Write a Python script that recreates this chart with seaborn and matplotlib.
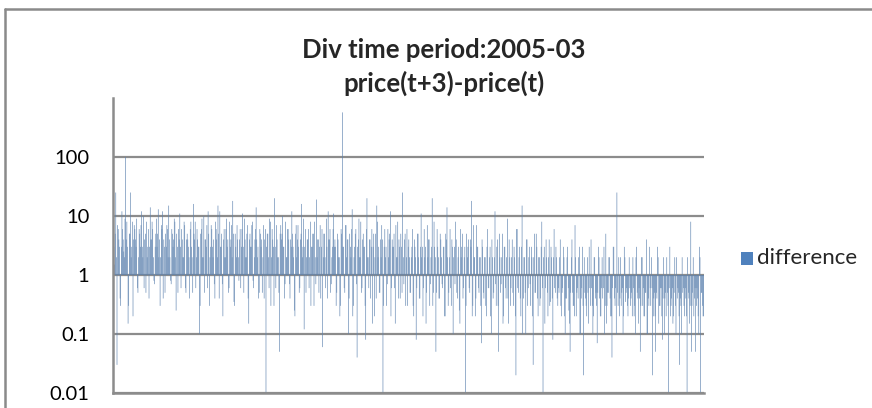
import numpy as np
import pandas as pd
import matplotlib
matplotlib.use("Agg")
import matplotlib.pyplot as plt
import seaborn as sns
from matplotlib.patches import Rectangle
from matplotlib.lines import Line2D

title_line1 = "Div time period:2005-03"
title_line2 = "price(t+3)-price(t)"
series_name = "difference"
ytick_vals = [0.01, 0.1, 1, 10, 100]
ytick_labels = ["0.01", "0.1", "1", "10", "100"]

# values read left to right, in 8 stretches; each stretch has two interleaved lists
seg1a = [0.02, 1.5, 25, 0.03, 6, 3, 0.3, 12, 4, 2, 100, 8, 0.15, 5, 25, 3, 0.2, 7, 4, 9,
         0.5, 6, 3, 12, 2, 0.6, 5, 8, 3, 0.4, 14, 4, 6, 0.8, 3, 9, 5, 2, 0.3, 7,
         12, 4, 0.5, 3, 6, 15, 2, 0.7, 5, 4, 8, 0.25, 3, 6, 11, 0.6, 4, 2, 7, 0.5]
seg1b = [3, 5, 2, 7, 4, 0.4, 3, 6, 2.5, 9, 4, 3, 0.3, 5, 2, 8, 4, 6, 3, 0.6,
         2, 5, 7, 3, 10, 4, 0.5, 2, 6, 3, 4, 8, 2, 0.7, 5, 3, 13, 4, 2, 6,
         0.4, 3, 5, 7, 2, 4, 0.8, 6, 3, 9, 2, 5, 0.5, 4, 3, 6, 2, 8, 0.6, 4]
seg2a = [5, 3, 0.4, 8, 2, 16, 4, 0.6, 6, 3, 0.1, 5, 9, 2, 0.5, 4, 7, 12, 0.3, 3,
         6, 2, 0.7, 8, 4, 15, 0.4, 3, 5, 0.2, 6, 2, 9, 4, 0.6, 3, 7, 18, 0.35, 5,
         2, 4, 0.8, 6, 3, 11, 0.5, 4, 2, 7, 0.15, 5, 3, 8, 0.6, 4, 14, 2, 0.4, 6]
seg2b = [4, 2, 6, 3, 0.5, 5, 8, 2, 4, 3, 0.3, 6, 2, 10, 4, 3, 0.6, 5, 2, 7,
         3, 4, 0.4, 6, 2, 5, 12, 3, 0.7, 4, 2, 6, 3, 0.5, 8, 4, 2, 5, 0.3, 3,
         7, 2, 4, 0.6, 6, 3, 9, 2, 5, 0.4, 4, 3, 7, 0.8, 2, 6, 4, 3, 0.5, 5]
seg3a = [3, 0.5, 7, 4, 0.01, 5, 2, 9, 0.3, 6, 3, 20, 0.6, 4, 2, 0.05, 7, 5, 3, 0.4,
         8, 2, 6, 0.7, 4, 12, 3, 0.25, 5, 2, 7, 0.5, 4, 16, 3, 0.12, 6, 2, 4, 0.6,
         8, 3, 5, 0.3, 2, 19, 4, 0.5, 7, 3, 0.06, 5, 2, 9, 0.4, 4, 6, 0.7, 3, 11]
seg3b = [4, 2, 0.4, 6, 3, 5, 0.6, 8, 2, 4, 0.3, 3, 7, 2, 0.5, 5, 4, 10, 3, 0.7,
         2, 6, 4, 0.4, 3, 5, 2, 0.2, 7, 4, 3, 0.6, 5, 2, 9, 3, 0.5, 4, 6, 2,
         0.3, 3, 5, 8, 0.7, 2, 4, 3, 0.4, 6, 2, 5, 0.6, 3, 12, 4, 0.5, 2, 6, 3]
seg4a = [4, 0.3, 5, 2, 0.2, 6, 570, 3, 0.5, 7, 4, 0.1, 5, 2, 13, 0.3, 3, 6, 0.04, 4,
         2, 8, 0.6, 5, 3, 0.08, 20, 2, 4, 0.4, 6, 3, 0.2, 5, 15, 2, 0.5, 4, 7, 0.01,
         3, 2, 0.3, 6, 4, 12, 0.6, 3, 5, 0.15, 2, 8, 4, 0.4, 3, 25, 0.7, 5, 2, 0.3]
seg4b = [3, 0.5, 4, 2, 0.3, 5, 3, 0.6, 7, 2, 4, 0.4, 3, 6, 0.2, 2, 5, 0.7, 3, 9,
         2, 0.5, 4, 3, 0.3, 6, 2, 0.6, 4, 3, 0.15, 5, 2, 0.4, 8, 3, 0.5, 2, 4, 0.3,
         6, 3, 0.7, 2, 5, 0.2, 4, 3, 0.6, 7, 2, 0.4, 3, 5, 0.5, 2, 4, 0.3, 6, 3]
seg5a = [4, 0.5, 2, 6, 0.2, 3, 0.08, 5, 2, 0.4, 11, 3, 0.6, 2, 0.15, 7, 4, 0.3, 2, 20,
         0.5, 3, 0.05, 6, 2, 0.4, 4, 0.7, 3, 0.2, 5, 14, 0.3, 2, 0.6, 4, 0.1, 3, 8, 0.5,
         2, 0.25, 6, 3, 0.4, 2, 0.01, 5, 3, 0.6, 4, 18, 0.3, 2, 0.2, 7, 3, 0.5, 2, 0.07]
seg5b = [2, 0.5, 3, 0.3, 4, 2, 0.6, 5, 0.4, 3, 2, 0.2, 6, 3, 0.5, 2, 4, 0.7, 3, 0.3,
         8, 2, 0.5, 3, 0.4, 5, 2, 0.6, 3, 0.2, 4, 2, 0.5, 6, 0.3, 3, 2, 0.7, 4, 0.4,
         3, 0.15, 2, 5, 0.6, 3, 0.3, 2, 4, 0.5, 3, 0.2, 7, 2, 0.4, 3, 0.6, 2, 0.3, 4]
seg6a = [3, 0.4, 2, 0.2, 6, 0.6, 3, 0.1, 2, 0.5, 12, 0.3, 4, 0.05, 2, 0.7, 5, 0.2, 3, 0.4,
         9, 0.15, 2, 0.6, 4, 0.3, 2, 0.02, 6, 0.5, 3, 0.2, 15, 0.4, 2, 0.1, 4, 0.6, 3, 0.3,
         2, 0.03, 5, 0.5, 3, 0.2, 2, 0.4, 8, 0.01, 3, 0.6, 2, 0.2, 4, 0.35, 2, 0.08, 6, 0.5]
seg6b = [0.5, 2, 0.3, 3, 0.6, 2, 0.2, 4, 0.4, 2, 0.7, 3, 0.3, 5, 0.5, 2, 0.15, 3, 0.6, 2,
         0.4, 4, 0.3, 2, 0.5, 3, 0.2, 6, 0.6, 2, 0.4, 3, 0.1, 2, 0.5, 4, 0.3, 2, 0.7, 3,
         0.2, 2, 0.5, 5, 0.4, 2, 0.3, 3, 0.6, 2, 0.15, 4, 0.5, 2, 0.3, 3, 0.4, 2, 0.6, 3]
seg7a = [2, 0.3, 0.5, 4, 0.2, 0.6, 2, 0.1, 0.4, 3, 0.25, 0.05, 2, 0.5, 0.3, 7, 0.2, 0.6, 2, 0.1,
         0.4, 3, 0.02, 0.5, 0.3, 2, 0.15, 0.6, 4, 0.3, 0.2, 2, 0.5, 0.07, 3, 0.4, 0.2, 2, 0.6, 0.1,
         5, 0.3, 0.5, 2, 0.2, 0.04, 3, 0.4, 0.6, 25, 0.3, 0.2, 2, 0.5, 0.1, 3, 0.35, 0.6, 0.2, 2]
seg7b = [0.4, 0.6, 2, 0.3, 0.5, 3, 0.2, 0.4, 2, 0.6, 0.15, 0.5, 4, 0.3, 0.2, 2, 0.5, 0.4, 3, 0.1,
         0.6, 0.3, 2, 0.4, 0.2, 0.5, 3, 0.3, 0.6, 0.1, 2, 0.4, 0.3, 0.5, 2, 0.2, 0.6, 0.4, 3, 0.3,
         0.15, 0.5, 2, 0.4, 0.2, 0.6, 3, 0.3, 0.1, 0.5, 2, 0.4, 0.3, 0.6, 0.2, 2, 0.5, 0.3, 0.4, 0.6]
seg8a = [0.3, 0.5, 2, 0.2, 0.1, 3, 0.4, 0.6, 0.05, 2, 0.3, 0.2, 0.5, 4, 0.1, 0.3, 0.6, 2, 0.02, 0.4,
         0.2, 0.5, 3, 0.15, 0.3, 0.6, 0.08, 2, 0.4, 0.2, 0.5, 0.01, 3, 0.3, 0.6, 0.2, 2, 0.1, 0.4, 0.5,
         0.03, 0.3, 2, 0.6, 0.2, 0.4, 0.01, 0.5, 0.15, 8, 0.3, 2, 0.4, 0.05, 0.6, 0.2, 3, 0.01, 0.5, 0.2]
seg8b = [0.4, 0.2, 0.6, 0.3, 2, 0.5, 0.15, 0.4, 0.3, 2, 0.6, 0.2, 0.5, 0.1, 0.4, 3, 0.3, 0.6, 0.2, 0.5,
         0.05, 0.4, 2, 0.3, 0.6, 0.2, 0.4, 0.1, 0.5, 2, 0.3, 0.6, 0.2, 0.4, 0.15, 0.5, 0.3, 2, 0.6, 0.2,
         0.4, 0.1, 0.5, 0.3, 0.6, 0.2, 2, 0.4, 0.3, 0.05, 0.5, 0.2, 0.6, 0.3, 0.4, 0.1, 2, 0.5, 0.3, 0.2]

pairs = [(seg1a, seg1b), (seg2a, seg2b), (seg3a, seg3b), (seg4a, seg4b),
         (seg5a, seg5b), (seg6a, seg6b), (seg7a, seg7b), (seg8a, seg8b)]
values = [v for a, b in pairs for pa, pb in zip(a, b) for v in (pa, pb)]
n = len(values)

# Excel-style log bars grow from 1: offset from 1 drawn with bottom=1
df = pd.DataFrame({"idx": np.arange(n), "offset": np.array(values, dtype=float) - 1.0})

sns.set_style("white")
plt.rcParams["font.family"] = ["Lato", "DejaVu Sans"]

W, H = 872, 408
fig = plt.figure(figsize=(W / 100, H / 100), dpi=100)
ax = fig.add_axes([113 / W, 1 - 393 / H, (704 - 113) / W, (393 - 98) / H])

blue = "#4F81BD"
sns.barplot(data=df, x="idx", y="offset", ax=ax, color=blue, errorbar=None,
            width=1.0, linewidth=0, bottom=1)

ax.set_yscale("log")
ax.set_ylim(0.01, 1000)
ax.set_xlim(-0.5, n - 0.5)
ax.set_yticks(ytick_vals)
ax.set_yticklabels(ytick_labels)
ax.yaxis.set_minor_locator(matplotlib.ticker.NullLocator())
ax.set_xticks([])
ax.set_xlabel("")
ax.set_ylabel("")
ax.grid(axis="y", color="#8c8c8c", linewidth=1.6)
for gl in ax.get_ygridlines():
    gl.set_zorder(0.5)
for b in ax.patches:
    b.set_zorder(1)
    b.set_snap(False)
    b.set_antialiased(True)
ax.tick_params(axis="y", direction="inout", length=10, width=1.6, color="#8c8c8c",
               labelsize=14.5, pad=12, labelcolor="black")
for s in ["top", "right"]:
    ax.spines[s].set_visible(False)
for s in ["left", "bottom"]:
    ax.spines[s].set_color("#8c8c8c")
    ax.spines[s].set_linewidth(1.8)
    ax.spines[s].set_zorder(3)

fig.text(444 / W, 1 - 58 / H, title_line1, ha="center", va="baseline", fontsize=18.5,
         fontweight="bold")
fig.text(444 / W, 1 - 92 / H, title_line2, ha="center", va="baseline", fontsize=18.5,
         fontweight="bold")

# legend
fig.add_artist(Rectangle((741 / W, 1 - 265 / H), 12 / W, 13 / H, transform=fig.transFigure,
                         facecolor=blue, edgecolor="none"))
fig.text(757 / W, 1 - 264 / H, series_name, ha="left", va="baseline", fontsize=16)

# outer chart frame (left and top edges visible)
fig.add_artist(Line2D([5 / W, 5 / W], [0, 1 - 9 / H], transform=fig.transFigure,
                      color="#8a8a8a", linewidth=1.8))
fig.add_artist(Line2D([5 / W, 1], [1 - 9 / H, 1 - 9 / H], transform=fig.transFigure,
                      color="#8a8a8a", linewidth=1.8))

fig.savefig("out.png", dpi=100)
